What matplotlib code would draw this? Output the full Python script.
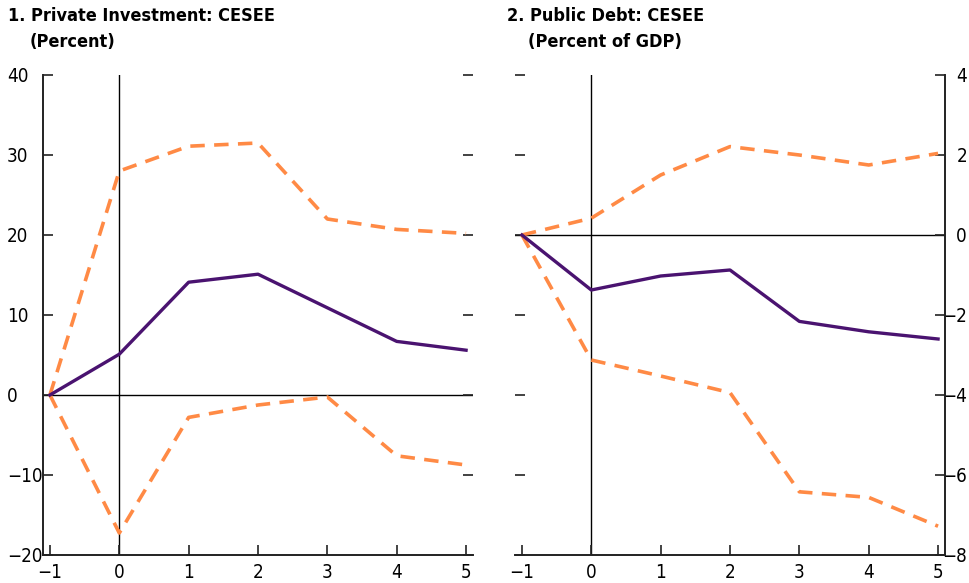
import matplotlib
matplotlib.use("Agg")
import matplotlib.pyplot as plt
from matplotlib import font_manager

# pick a condensed sans if one is installed, otherwise Liberation Sans
cond_family, cond_stretch = None, 'normal'
for f in font_manager.fontManager.ttflist:
    if 'Narrow' in f.name or 'Condensed' in f.name:
        cond_family, cond_stretch = f.name, f.stretch
        break
    if f.name in ('DejaVu Sans', 'Liberation Sans', 'Roboto', 'Open Sans') and str(f.stretch) in ('condensed', 'semi-condensed', '75', '87'):
        cond_family, cond_stretch = f.name, f.stretch
        break
if cond_family is None:
    cond_family = 'Liberation Sans'
plt.rcParams['font.family'] = [cond_family, 'DejaVu Sans']
plt.rcParams['font.stretch'] = cond_stretch
is_cond = cond_stretch != 'normal' or 'Narrow' in cond_family or 'Condensed' in cond_family
FS = 13.5 if is_cond else 13
FT = 13 if is_cond else 12.5

# Data
horizon = [-1, 0, 1, 2, 3, 4, 5]

inv_median = [0, 5.1, 14.1, 15.1, 10.9, 6.7, 5.6]
inv_upper = [0, 28.0, 31.1, 31.5, 22.0, 20.7, 20.2]
inv_lower = [0, -17.25, -2.8, -1.25, -0.25, -7.6, -8.75]

debt_median = [0, -1.375, -1.025, -0.875, -2.16, -2.42, -2.6]
debt_upper = [0, 0.42, 1.5, 2.21, 2.0, 1.75, 2.04]
debt_lower = [0, -3.125, -3.525, -3.94, -6.42, -6.56, -7.28]

x_ticks = [-1, 0, 1, 2, 3, 4, 5]
inv_yticks = [-20, -10, 0, 10, 20, 30, 40]
debt_yticks = [-8, -6, -4, -2, 0, 2, 4]

title1 = "1. Private Investment: CESEE"
sub1 = "(Percent)"
title2 = "2. Public Debt: CESEE"
sub2 = "(Percent of GDP)"

PURPLE = "#4a1370"
ORANGE = "#ff8a45"
SPINE = "#222222"

W, H = 970, 583
fig = plt.figure(figsize=(W / 100, H / 100), dpi=100)

def frac(x0, y0, x1, y1):
    return [x0 / W, 1 - y1 / H, (x1 - x0) / W, (y1 - y0) / H]

ax1 = fig.add_axes(frac(43, 75, 473, 555))
ax2 = fig.add_axes(frac(515, 75, 945, 555))

PX = 72 / 100  # points per pixel

def fmt(t):
    return str(t).replace('-', '\u2212')

def draw(ax, med, up, lo, yticks, ylim, side):
    ax.axhline(0, color='black', lw=1.0, zorder=1)
    ax.axvline(0, color='black', lw=1.0, zorder=1)
    ax.plot(horizon, up, color=ORANGE, lw=2.6, dashes=(4, 2.6), zorder=3)
    ax.plot(horizon, lo, color=ORANGE, lw=2.6, dashes=(4, 2.6), zorder=3)
    ax.plot(horizon, med, color=PURPLE, lw=2.4, zorder=4)
    ax.set_xlim(-1.1, 5.1)
    ax.set_ylim(*ylim)
    ax.set_xticks(x_ticks)
    ax.set_xticklabels([fmt(t) for t in x_ticks])
    ax.set_yticks(yticks)
    ax.spines['top'].set_visible(False)
    ax.spines['bottom'].set_color(SPINE)
    ax.spines['bottom'].set_linewidth(1.4)
    ax.tick_params(axis='both', direction='in', length=7, width=1.2,
                   color=SPINE, labelsize=FS)
    ax.tick_params(axis='x', pad=6)
    if side == 'left':
        ax.spines['right'].set_visible(False)
        ax.spines['left'].set_color(SPINE)
        ax.spines['left'].set_linewidth(1.4)
        ax.tick_params(axis='y', left=True, right=True,
                       labelleft=True, labelright=False, pad=36 * PX)
        ax.set_yticklabels([fmt(t) for t in yticks], ha='left')
    else:
        ax.spines['left'].set_visible(False)
        ax.spines['right'].set_color(SPINE)
        ax.spines['right'].set_linewidth(1.4)
        ax.tick_params(axis='y', left=True, right=True,
                       labelleft=False, labelright=True, pad=22 * PX)
        ax.set_yticklabels([fmt(t) for t in yticks], ha='right')

draw(ax1, inv_median, inv_upper, inv_lower, inv_yticks, (-20, 40), 'left')
draw(ax2, debt_median, debt_upper, debt_lower, debt_yticks, (-8, 4), 'right')

fig.text(8 / W, 1 - 7 / H, title1, ha='left', va='top', fontsize=FT, fontweight='bold')
fig.text(30 / W, 1 - 33 / H, sub1, ha='left', va='top', fontsize=FT, fontweight='bold')
fig.text(507 / W, 1 - 7 / H, title2, ha='left', va='top', fontsize=FT, fontweight='bold')
fig.text(528 / W, 1 - 33 / H, sub2, ha='left', va='top', fontsize=FT, fontweight='bold')

fig.savefig("out.png", dpi=100)
